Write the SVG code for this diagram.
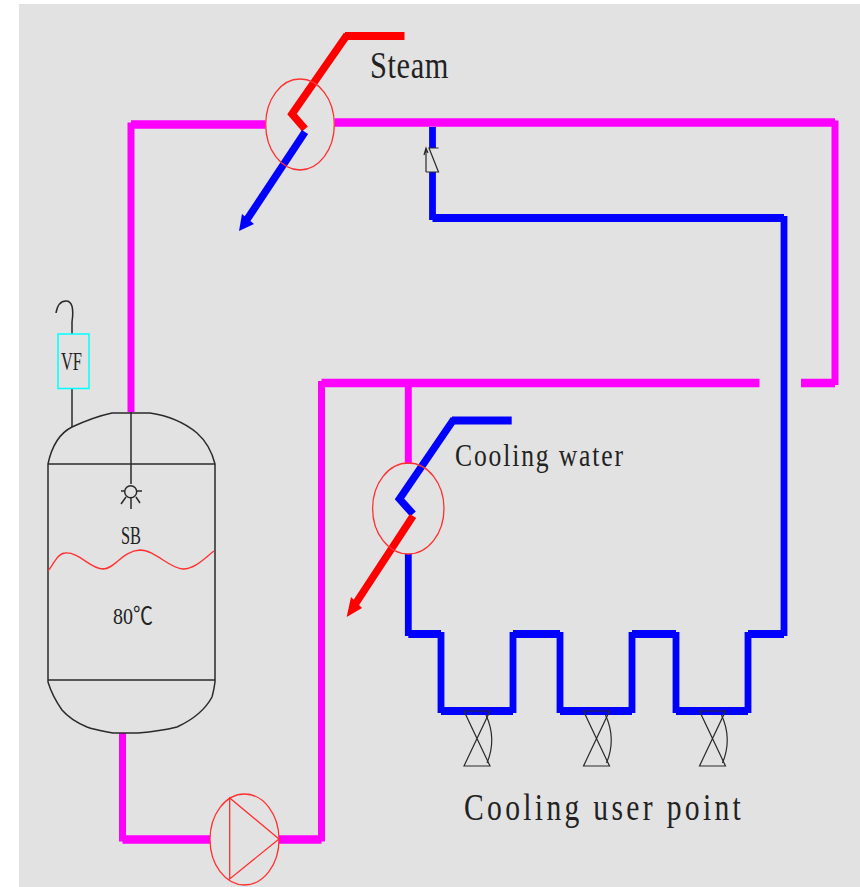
<svg xmlns="http://www.w3.org/2000/svg" width="860" height="887" viewBox="0 0 860 887">
<style>
.pmh{fill:none;stroke:#ff00ff;stroke-width:8.3}
.pmv{fill:none;stroke:#ff00ff;stroke-width:7}
.blh{fill:none;stroke:#0000ff;stroke-width:8}
.blv{fill:none;stroke:#0000ff;stroke-width:6.8}
.bld{fill:none;stroke:#0000ff;stroke-width:7.5}
.rdh{fill:none;stroke:#ff0000;stroke-width:8}
.rdd{fill:none;stroke:#ff0000;stroke-width:7.5}
.thin{fill:none;stroke:#ff3030;stroke-width:1.3}
.k{fill:none;stroke:#2a2a2a;stroke-width:1.5}
.v{fill:none;stroke:#2a2a2a;stroke-width:1.2}
text{font-family:"Liberation Serif","Noto Sans CJK SC",serif;fill:#222}
</style>
<defs>
<g id="valve"><path class="v" d="M0 0H26L0 55H26L0 0Z"/><path class="v" d="M22 4Q33 28 23 52"/></g>
</defs>
<rect x="19" y="4" width="841" height="883" fill="#e2e2e2"/>
<g id="connectors">
<path class="pmh" d="M131 124.500H265.500M334.500 122.500H835M835 383H801M759.500 383H321.500M122.500 839.500H210M279 839.500H321.500"/>
<path class="pmv" d="M131 122.500V412M835 120.500V385M321.500 381V841.500M408.300 383V464M122.500 733V841.500"/>
<path class="blh" d="M432.500 218H784M748 634H784M676 711H748M632 634H676M560 711H632M513 634H560M441 711H513M408.300 634H441"/>
<path class="blv" d="M432.500 127V148M432.500 172V220M784 216V636M748 632V713M676 632V713M632 632V713M560 632V713M513 632V713M441 632V713M408.300 554V636"/>
<path class="rdh" d="M404.500 36H345"/>
<path class="rdd" d="M347 35L292 114L305 129"/>
<path class="bld" d="M305 132L246 221"/>
<path d="M239 231L242 214L254 224Z" fill="#0000ff"/>
<path class="blh" d="M511.700 420.500H452"/>
<path class="bld" d="M454 419L399.500 499L413 514"/>
<path class="rdd" d="M413 516L354 606"/>
<path d="M346.700 617L351 597L362 608Z" fill="#ff0000"/>
</g>
<g id="steam-heater"><ellipse class="thin" cx="300" cy="124.500" rx="34.300" ry="45.500"/></g>
<g id="cooler"><ellipse class="thin" cx="408.300" cy="508.500" rx="35.700" ry="45.500"/></g>
<g id="pump"><ellipse class="thin" cx="244.500" cy="839.500" rx="34.500" ry="45.500"/><path class="thin" d="M229.700 798V879L279 839Z"/></g>
<g id="check-valve"><path class="v" d="M426 172H438.500L429 148H438.500M426 172V148M424 155L426 148L428 153"/></g>
<g id="vf"><path class="k" d="M72 334V322Q75 301 66 301Q58 301 56 313M72 389V427"/><rect x="58" y="334" width="31" height="54.500" fill="none" stroke="#00ffff" stroke-width="1.500"/><text transform="translate(61,370)" font-size="26" textLength="21" lengthAdjust="spacingAndGlyphs">VF</text></g>
<g id="tank">
<path class="k" d="M48 464C52 445 60 433 72 427C85 421 98 416 112 413H150C170 416 185 423 197 433C206 441 212 452 215 464V682C214 690 213 693 212 697C204 712 190 721 177 727C165 730 150 732 138 733H113C103 731 95 730 87 727C75 722 68 717 62 710C55 700 51 692 48 682Z"/>
<path class="k" d="M48 464H215M48 680H215M131 412V484"/>
<circle class="k" cx="130.700" cy="491.700" r="6"/>
<path class="k" d="M121 491H125M137 491H142M126 497L121 504M131 498V509M136 497L140 503"/>
<path d="M48 571C53 565 58 553 65 553C80 552 90 569 103 569C115 569 122 551 140 550C155 550 170 569 183 569C195 569 205 558 214 551" fill="none" stroke="#ff3030" stroke-width="1.300"/>
<text font-size="26" x="121" y="544" textLength="20" lengthAdjust="spacingAndGlyphs">SB</text>
<text font-size="24" x="113" y="624" textLength="40" lengthAdjust="spacingAndGlyphs">80℃</text>
</g>
<g id="user-valves"><use href="#valve" x="464" y="711"/><use href="#valve" x="583.500" y="711"/><use href="#valve" x="699.500" y="711"/></g>
<g id="labels">
<text transform="translate(370,78) scale(.8,1)" font-size="38" textLength="98" lengthAdjust="spacing">Steam</text>
<text transform="translate(455,466) scale(.8,1)" font-size="32" textLength="210" lengthAdjust="spacing">Cooling water</text>
<text transform="translate(464,820) scale(.8,1)" font-size="37" textLength="346" lengthAdjust="spacing">Cooling user point</text>
</g>
</svg>
